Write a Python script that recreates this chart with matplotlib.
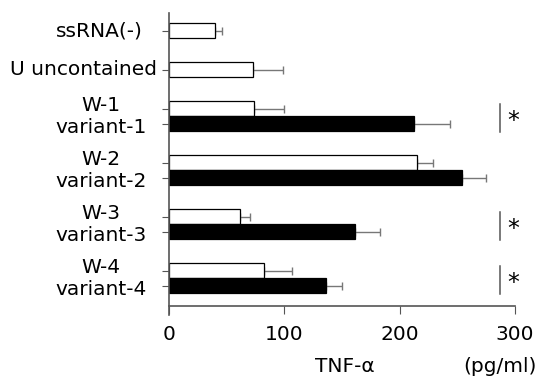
import matplotlib.pyplot as plt

# data (TNF-alpha, pg/ml)
single_labels = ["ssRNA(-)", "U uncontained"]
single_vals = [40, 73]
single_errs = [6, 26]

pair_ids = ["1", "2", "3", "4"]
w_vals = [74, 215, 62, 82]
w_errs = [26, 14, 8, 25]
var_vals = [212, 254, 161, 136]
var_errs = [32, 21, 22, 14]
significant = [True, False, True, True]

plt.rcParams['font.family'] = ['DejaVu Sans']

fig = plt.figure(figsize=(5.39, 3.86), dpi=100)
ax = fig.add_axes([0.3135, 0.2073, 0.642, 0.759])

gap = 1.6
pos = 0.0
single_pos = []
for _ in single_labels:
    single_pos.append(pos)
    pos += 1 + gap
w_pos, v_pos = [], []
for _ in pair_ids:
    w_pos.append(pos)
    v_pos.append(pos + 1)
    pos += 2 + gap

ecol = "#777777"
white_pos = single_pos + w_pos
white_vals = single_vals + w_vals
white_errs = single_errs + w_errs

ax.errorbar(white_vals, white_pos, xerr=[[0] * len(white_errs), white_errs],
            fmt="none", ecolor=ecol, elinewidth=1, capsize=3, zorder=1)
ax.errorbar(var_vals, v_pos, xerr=[[0] * len(var_errs), var_errs],
            fmt="none", ecolor=ecol, elinewidth=1, capsize=3, zorder=1)
ax.barh(white_pos, white_vals, height=1.0, color="white", edgecolor="black", linewidth=0.9, zorder=2)
ax.barh(v_pos, var_vals, height=1.0, color="black", edgecolor="black", linewidth=0.9, zorder=2)

ax.set_xlim(0, 300)
ax.set_ylim(18.35, -1.2)
ax.set_xticks([0, 100, 200, 300])
ax.tick_params(axis="x", labelsize=14.5, length=6, color="#555555", pad=8)
ax.set_yticks(single_pos + w_pos + v_pos)
ax.set_yticklabels([])
ax.tick_params(axis="y", length=5, color="#555555")
for s in ["top", "right"]:
    ax.spines[s].set_visible(False)
for s in ["left", "bottom"]:
    ax.spines[s].set_color("#555555")
    ax.spines[s].set_linewidth(1.2)
ax.spines["left"].set_bounds(18.95, -1.2)

ytr = ax.get_yaxis_transform()
ax.text(-0.075, single_pos[0], single_labels[0], transform=ytr, ha="right", va="center", fontsize=14.5)
ax.text(-0.035, single_pos[1], single_labels[1], transform=ytr, ha="right", va="center", fontsize=14.5)

for i, pid in enumerate(pair_ids):
    yc = (w_pos[i] + v_pos[i]) / 2
    ax.text(-0.064, yc, f"W-{pid}\nvariant-{pid}", transform=ytr,
            ha="right", va="center", multialignment="center", fontsize=14.5, linespacing=1.2)
    if significant[i]:
        ax.plot([287, 287], [w_pos[i] - 0.3, v_pos[i] + 0.55], color="#555555", lw=1.1, clip_on=False)
        ax.text(293, yc + 0.3, "*", fontsize=17, ha="left", va="center")

fig.text(0.64, 0.025, "TNF-α", fontsize=14.5, ha="center", va="bottom")
fig.text(0.928, 0.025, "(pg/ml)", fontsize=14.5, ha="center", va="bottom")

fig.savefig("out.png", dpi=100)
